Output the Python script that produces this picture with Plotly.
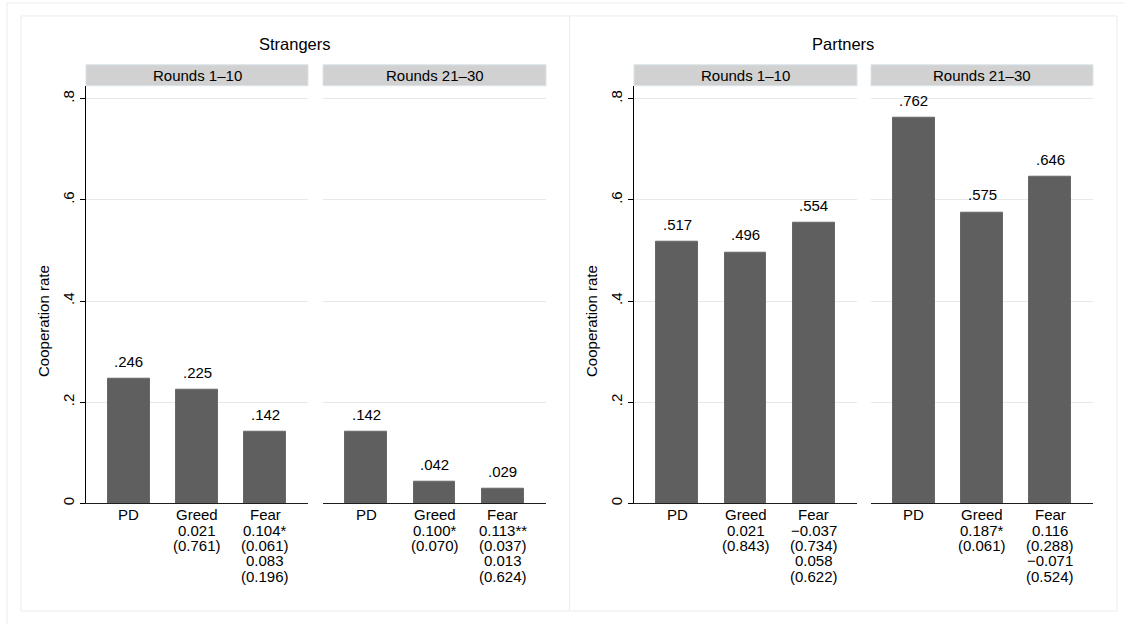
import plotly.graph_objects as go

# ---- data -----------------------------------------------------------------
categories = ["PD", "Greed", "Fear"]

strangers_r1_10 = [0.246, 0.225, 0.142]
strangers_r21_30 = [0.142, 0.042, 0.029]
partners_r1_10 = [0.517, 0.496, 0.554]
partners_r21_30 = [0.762, 0.575, 0.646]

# test statistics printed below each category (coefficient, p-value, ...)
strangers_r1_10_tests = [[], ["0.021", "(0.761)"], ["0.104*", "(0.061)", "0.083", "(0.196)"]]
strangers_r21_30_tests = [[], ["0.100*", "(0.070)"], ["0.113**", "(0.037)", "0.013", "(0.624)"]]
partners_r1_10_tests = [[], ["0.021", "(0.843)"], ["\u22120.037", "(0.734)", "0.058", "(0.622)"]]
partners_r21_30_tests = [[], ["0.187*", "(0.061)"], ["0.116", "(0.288)", "\u22120.071", "(0.524)"]]

panel_titles = ["Strangers", "Partners"]
strip_labels = ["Rounds 1\u201310", "Rounds 21\u201330"]
y_title = "Cooperation rate"
y_tickvals = [0, 0.2, 0.4, 0.6, 0.8]
y_ticktext = ["0", ".2", ".4", ".6", ".8"]

# ---- geometry (pixels) ----------------------------------------------------
W, H = 1124, 624
FONT = "Liberation Sans, Arial, Helvetica, sans-serif"
BAR = "#5f5f5f"


def fx(x):
    return x / W


def fy(y):
    return 1 - y / H


plot_top, plot_bottom = 86, 505
x_domains = [(86, 308), (323, 546), (634, 857), (871, 1093)]
y_max = 0.8256

series = [strangers_r1_10, strangers_r21_30, partners_r1_10, partners_r21_30]
tests = [strangers_r1_10_tests, strangers_r21_30_tests,
         partners_r1_10_tests, partners_r21_30_tests]

fig = go.Figure()
annotations = []
shapes = []

for i, (vals, stats) in enumerate(zip(series, tests)):
    n = i + 1
    xa = "x" if n == 1 else f"x{n}"
    ya = "y" if n == 1 else f"y{n}"
    fig.add_trace(go.Bar(
        x=categories, y=vals, xaxis=xa, yaxis=ya,
        width=0.613,
        marker=dict(color=BAR, line=dict(color="#686868", width=1)),
        showlegend=False, hoverinfo="skip",
    ))
    first = (i % 2 == 0)
    fig.update_layout(**{
        ("xaxis" if n == 1 else f"xaxis{n}"): dict(
            domain=[fx(x_domains[i][0]), fx(x_domains[i][1])],
            anchor=ya, range=[-0.628, 2.628],
            showline=True, linecolor="#1e1e1e", linewidth=1,
            showticklabels=False, ticks="", showgrid=False,
            zeroline=False, fixedrange=True,
        ),
        ("yaxis" if n == 1 else f"yaxis{n}"): dict(
            domain=[fy(plot_bottom), fy(plot_top)],
            anchor=xa, range=[0, y_max],
            tickvals=y_tickvals, ticktext=y_ticktext,
            showticklabels=first, ticks="outside" if first else "",
            ticklen=5, tickcolor="#000000", tickwidth=1,
            tickangle=-90, tickfont=dict(size=15, color="#000000", family=FONT),
            showline=first, linecolor="#000000", linewidth=1,
            showgrid=True, gridcolor="#e8e8e8", gridwidth=1,
            zeroline=False, fixedrange=True,
        ),
    })

    # value labels above bars
    for c, v in zip(categories, vals):
        annotations.append(dict(
            x=c, y=v, xref=xa, yref=ya, text=f"{v:.3f}".lstrip("0"),
            showarrow=False, yanchor="bottom", yshift=7,
            font=dict(size=15, color="#000000", family=FONT),
        ))

    # category names and statistics, one line at a time
    for c, lines in zip(categories, stats):
        for k, line in enumerate([c] + lines):
            annotations.append(dict(
                x=c, y=0, xref=xa, yref=ya, text=line,
                showarrow=False, yanchor="middle",
                yshift=-(11.5 + k * 15.3),
                font=dict(size=15, color="#000000", family=FONT),
            ))

    # strip header
    x0, x1 = x_domains[i]
    shapes.append(dict(type="rect", xref="paper", yref="paper",
                       x0=fx(x0), x1=fx(x1), y0=fy(86), y1=fy(65),
                       fillcolor="#d1d1d1", line=dict(color="#d9e4ea", width=1),
                       layer="below"))
    annotations.append(dict(
        x=fx((x0 + x1) / 2), y=fy(75.5), xref="paper", yref="paper",
        text=strip_labels[i % 2], showarrow=False,
        xanchor="center", yanchor="middle",
        font=dict(size=15, color="#000000", family=FONT),
    ))

# panel frames, outer frame, panel titles and y titles
panel_x = [(21, 569.5), (569.5, 1117)]
axis_x = [86, 634]
shapes.append(dict(type="rect", xref="paper", yref="paper",
                   x0=fx(7), x1=fx(1131), y0=fy(630), y1=fy(3),
                   line=dict(color="#ececec", width=1), layer="below"))
for p, (x0, x1) in enumerate(panel_x):
    shapes.append(dict(type="rect", xref="paper", yref="paper",
                       x0=fx(x0), x1=fx(x1), y0=fy(613), y1=fy(16),
                       line=dict(color="#ececec", width=1), layer="below"))
    annotations.append(dict(
        x=fx((x0 + x1) / 2), y=fy(44), xref="paper", yref="paper",
        text=panel_titles[p], showarrow=False,
        xanchor="center", yanchor="middle",
        font=dict(size=16.5, color="#000000", family=FONT),
    ))
    annotations.append(dict(
        x=fx(axis_x[p] - 42), y=fy(322), xref="paper", yref="paper",
        text=y_title, textangle=-90, showarrow=False,
        xanchor="center", yanchor="middle",
        font=dict(size=15, color="#000000", family=FONT),
    ))

fig.update_layout(
    width=W, height=H, autosize=False,
    margin=dict(l=0, r=0, t=0, b=0),
    paper_bgcolor="#ffffff", plot_bgcolor="#ffffff",
    font=dict(family=FONT, size=15, color="#000000"),
    bargap=0, shapes=shapes, annotations=annotations,
)

fig.write_html("out.html")
